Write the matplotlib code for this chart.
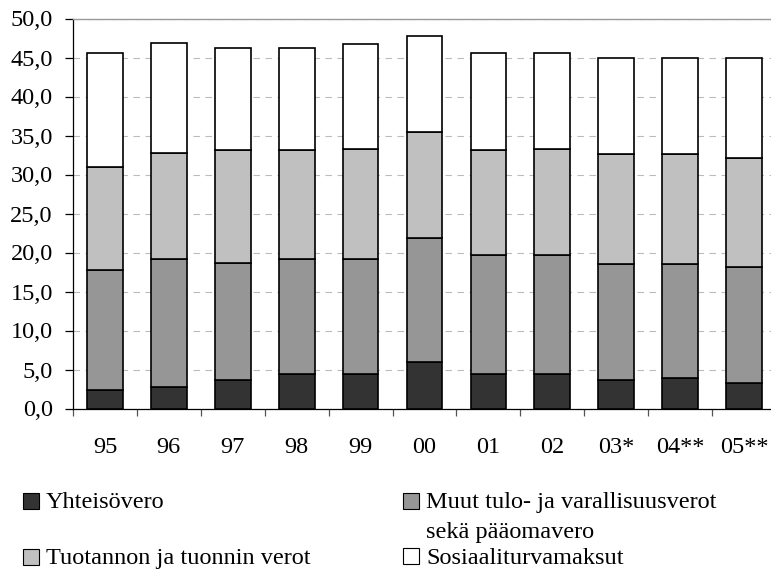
import matplotlib
matplotlib.use("Agg")
import matplotlib.pyplot as plt
from matplotlib.patches import Rectangle
import numpy as np

categories = ["95", "96", "97", "98", "99", "00", "01", "02", "03*", "04**", "05**"]
yhteisovero = [2.4, 2.8, 3.6, 4.4, 4.4, 5.9, 4.4, 4.4, 3.6, 3.85, 3.3]
muut = [15.3, 16.4, 15.1, 14.8, 14.8, 15.9, 15.3, 15.3, 14.9, 14.65, 14.9]
tuotannon = [13.3, 13.6, 14.4, 13.9, 14.1, 13.6, 13.4, 13.6, 14.1, 14.1, 13.9]
sosiaali = [14.6, 14.1, 13.1, 13.1, 13.4, 12.3, 12.5, 12.3, 12.3, 12.3, 12.8]
series_labels = ["Yhteisövero", "Muut tulo- ja varallisuusverot\nsekä pääomavero",
                 "Tuotannon ja tuonnin verot", "Sosiaaliturvamaksut"]
yticks = [0, 5, 10, 15, 20, 25, 30, 35, 40, 45, 50]
ytick_labels = ["0,0", "5,0", "10,0", "15,0", "20,0", "25,0", "30,0", "35,0", "40,0", "45,0", "50,0"]

colors = ["#333333", "#969696", "#c0c0c0", "#ffffff"]
W, H = 771, 569
FONT = "Liberation Serif"
FS = 17.5

fig = plt.figure(figsize=(W / 100, H / 100), dpi=100)
ax = fig.add_axes([73 / W, 1 - 408.5 / H, (776 - 73) / W, (408.5 - 18.5) / H])

x = np.arange(len(categories))
bottom = np.zeros(len(categories))
for vals, c in zip([yhteisovero, muut, tuotannon, sosiaali], colors):
    ax.bar(x, vals, width=0.56, bottom=bottom, color=c, edgecolor="black",
           linewidth=1.2, zorder=3)
    bottom += np.array(vals)

ax.set_xlim(-0.5, len(categories) - 0.5)
ax.set_ylim(0, 50)
ax.set_yticks(yticks)
ax.set_yticklabels(ytick_labels, fontfamily=FONT, fontsize=FS)
ax.set_xticks(x)
ax.set_xticklabels(categories, fontfamily=FONT, fontsize=FS)
ax.set_xticks(np.arange(len(categories)) - 0.5, minor=True)
ax.tick_params(axis="x", which="major", length=0, pad=20.5)
ax.tick_params(axis="x", which="minor", length=5.2, width=0.9, direction="out", color="#555555")
ax.tick_params(axis="y", which="major", length=5.5, width=0.9, direction="out", pad=9)

ax.yaxis.grid(True, color="#bbbbbb", linestyle=(0, (5.8, 5)), linewidth=0.8, zorder=0)
ax.set_axisbelow(True)
ax.spines["right"].set_visible(False)
ax.spines["top"].set_color("#999999")
ax.spines["top"].set_linewidth(1.0)
ax.spines["left"].set_color("black")
ax.spines["left"].set_linewidth(0.9)
ax.spines["bottom"].set_color("black")
ax.spines["bottom"].set_linewidth(0.9)

# Legend drawn manually
legend_pos = [(23, 493, 508), (403, 493, 508), (23, 549, 564), (403, 548, 564)]
for (mx, my, base), lab, c in zip(legend_pos, series_labels, colors):
    fig.add_artist(Rectangle((mx / W, 1 - (my + 16) / H), 16 / W, 16 / H,
                             transform=fig.transFigure, facecolor=c,
                             edgecolor="black", linewidth=0.8))
    for i, line in enumerate(lab.split("\n")):
        fig.text((mx + 23) / W, 1 - (base + 30 * i) / H, line, fontfamily=FONT,
                 fontsize=FS, va="baseline", ha="left")

fig.savefig("out.png", dpi=100)
